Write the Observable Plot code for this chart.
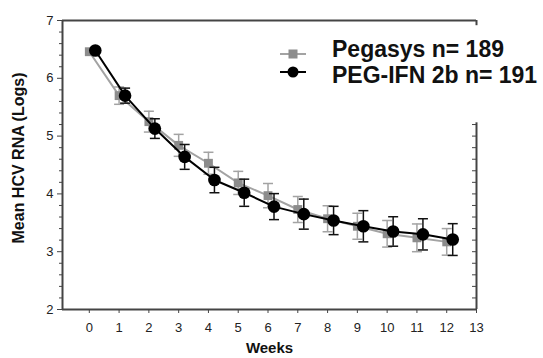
<!DOCTYPE html>
<html>
<head>
<meta charset="utf-8">
<script src="https://cdn.jsdelivr.net/npm/d3@7"></script>
<script src="https://cdn.jsdelivr.net/npm/@observablehq/plot@0.6"></script>
<style>
  html, body { margin: 0; padding: 0; background: #fff; }
  #wrap { position: relative; width: 543px; height: 358px; font-family: "Liberation Sans", Arial, sans-serif; }
  #legend { position: absolute; left: 278px; top: 38px; }
  .lbl { position: absolute; left: 54px; font-weight: bold; font-size: 23px; color: #111; white-space: nowrap; line-height: 1; }
</style>
</head>
<body>
<div id="wrap"></div>
<script>
// ---- data ----
const weeks = [0, 1, 2, 3, 4, 5, 6, 7, 8, 9, 10, 11, 12];
const pegasys = [6.46, 5.70, 5.25, 4.84, 4.53, 4.19, 3.97, 3.73, 3.57, 3.44, 3.31, 3.24, 3.17];
const pegasysErr = [0, 0.15, 0.18, 0.19, 0.19, 0.2, 0.21, 0.225, 0.225, 0.225, 0.23, 0.24, 0.23];
const pegIfn = [6.48, 5.70, 5.13, 4.64, 4.24, 4.02, 3.78, 3.65, 3.54, 3.44, 3.35, 3.30, 3.21];
const pegIfnErr = [0, 0.13, 0.17, 0.215, 0.22, 0.235, 0.225, 0.26, 0.245, 0.27, 0.255, 0.27, 0.275];
const seriesNames = ["Pegasys n= 189", "PEG-IFN 2b n= 191"];
const xTicks = [0, 1, 2, 3, 4, 5, 6, 7, 8, 9, 10, 11, 12, 13];
const yTicks = [2, 3, 4, 5, 6, 7];
const xLabel = "Weeks";
const yLabel = "Mean HCV RNA (Logs)";

const xMin = -0.9, xMax = 13, yMin = 2, yMax = 7;
const minorTicks = d3.range(20, 71, 2).map(v => v / 10).filter(v => !yTicks.includes(v));
const rightTicks = d3.range(20, 53, 2).map(v => v / 10);

const rowsA = weeks.map((w, i) => ({w, v: pegasys[i], lo: pegasys[i] - pegasysErr[i], hi: pegasys[i] + pegasysErr[i], e: pegasysErr[i]}));
const rowsB = weeks.map((w, i) => ({w, v: pegIfn[i], lo: pegIfn[i] - pegIfnErr[i], hi: pegIfn[i] + pegIfnErr[i], e: pegIfnErr[i]}));

const capSymbol = { draw(ctx, size) { const r = Math.sqrt(size / Math.PI); ctx.moveTo(-r, 0); ctx.lineTo(r, 0); } };

const grayLine = "#a3a3a3", grayFill = "#8c8c8c", axisCol = "#444";
const dxB = 6;

const chart = Plot.plot({
  width: 543,
  height: 358,
  marginLeft: 62,
  marginRight: 67,
  marginTop: 20,
  marginBottom: 49,
  style: { fontFamily: "'Liberation Sans', Arial, sans-serif", color: "#222", background: "#fff" },
  x: { domain: [xMin, xMax] },
  y: { domain: [yMin, yMax] },
  marks: [
    // frame
    Plot.ruleY([yMax], { stroke: axisCol, strokeWidth: 2 }),
    Plot.ruleY([yMin], { stroke: axisCol, strokeWidth: 2 }),
    Plot.ruleX([xMin], { stroke: axisCol, strokeWidth: 2 }),
    Plot.ruleX([xMax], { y1: 2, y2: 5.23, stroke: axisCol, strokeWidth: 2 }),
    Plot.ruleX([xMax], { y1: 6.91, y2: 7, stroke: axisCol, strokeWidth: 2 }),
    // axes
    Plot.axisX({ ticks: xTicks, tickSize: 4, tickPadding: 9, fontSize: 13, tickFormat: "d", label: null, stroke: axisCol }),
    Plot.axisY({ ticks: yTicks, tickSize: 5, tickPadding: 4, fontSize: 13, tickFormat: "d", label: null, stroke: axisCol }),
    Plot.axisY({ ticks: minorTicks, tickSize: 3, tickFormat: () => "", label: null, stroke: axisCol }),
    Plot.axisY({ anchor: "right", ticks: rightTicks, tickSize: -5, tickFormat: () => "", label: null, stroke: axisCol }),
    Plot.text([xLabel], { frameAnchor: "bottom", dy: 43, fontWeight: "bold", fontSize: 15, fill: "#111" }),
    Plot.text([yLabel], { frameAnchor: "left", textAnchor: "middle", rotate: -90, dx: -44, dy: -7, fontWeight: "bold", fontSize: 16, fill: "#111" }),
    // Pegasys
    Plot.line(rowsA, { x: "w", y: "v", stroke: grayLine, strokeWidth: 2 }),
    Plot.ruleX(rowsA.filter(d => d.e > 0), { x: "w", y1: "lo", y2: "hi", stroke: grayLine, strokeWidth: 1.5 }),
    Plot.dot(rowsA.filter(d => d.e > 0), { x: "w", y: "lo", symbol: capSymbol, r: 5, stroke: grayLine, strokeWidth: 1.5 }),
    Plot.dot(rowsA.filter(d => d.e > 0), { x: "w", y: "hi", symbol: capSymbol, r: 5, stroke: grayLine, strokeWidth: 1.5 }),
    Plot.dot(rowsA, { x: "w", y: "v", symbol: "square", r: 5, fill: grayFill, stroke: "none" }),
    // PEG-IFN 2b
    Plot.line(rowsB, { x: "w", y: "v", dx: dxB, stroke: "#000", strokeWidth: 2 }),
    Plot.ruleX(rowsB.filter(d => d.e > 0), { x: "w", y1: "lo", y2: "hi", dx: dxB, stroke: "#111", strokeWidth: 1.5 }),
    Plot.dot(rowsB.filter(d => d.e > 0), { x: "w", y: "lo", dx: dxB, symbol: capSymbol, r: 5, stroke: "#111", strokeWidth: 1.5 }),
    Plot.dot(rowsB.filter(d => d.e > 0), { x: "w", y: "hi", dx: dxB, symbol: capSymbol, r: 5, stroke: "#111", strokeWidth: 1.5 }),
    Plot.dot(rowsB, { x: "w", y: "v", dx: dxB, r: 6.3, fill: "#000", stroke: "none" })
  ]
});

const wrap = document.getElementById("wrap");
wrap.appendChild(chart);

// legend (HTML overlay)
const legend = document.createElement("div");
legend.id = "legend";
legend.innerHTML = `
  <svg width="40" height="40" style="position:absolute;left:0;top:0;overflow:visible">
    <line x1="2" x2="28" y1="16" y2="16" stroke="${grayLine}" stroke-width="2"/>
    <rect x="10.5" y="11.5" width="9" height="9" fill="${grayFill}"/>
    <line x1="2" x2="28" y1="34" y2="34" stroke="#000" stroke-width="2"/>
    <circle cx="15" cy="34" r="5.5" fill="#000"/>
  </svg>
  <div class="lbl" style="top:0px">${seriesNames[0]}</div>
  <div class="lbl" style="top:26px">${seriesNames[1]}</div>`;
wrap.appendChild(legend);
</script>
</body>
</html>
